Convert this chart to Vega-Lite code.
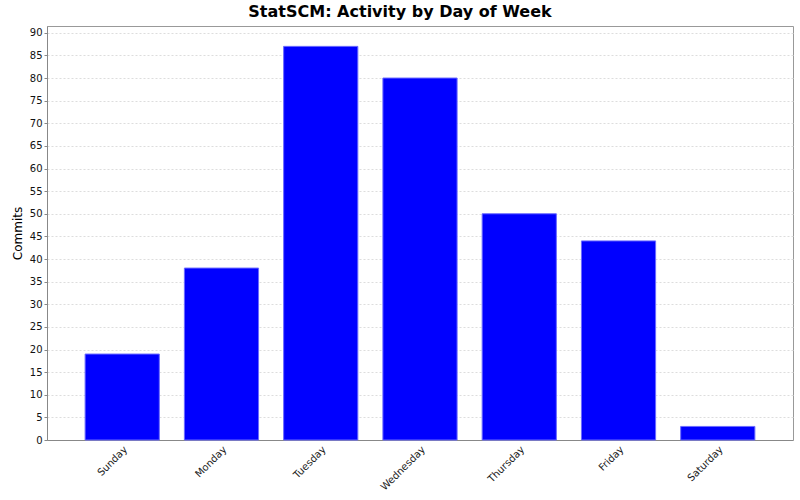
{
  "$schema": "https://vega.github.io/schema/vega-lite/v6.json",
  "width": 746,
  "height": 414,
  "autosize": {"type": "none"},
  "padding": {"left": 47, "top": 26, "right": 7, "bottom": 60},
  "background": "white",
  "title": {
    "text": "StatSCM: Activity by Day of Week",
    "font": "DejaVu Sans",
    "fontSize": 16,
    "fontWeight": "bold",
    "color": "#000000",
    "anchor": "middle",
    "dx": -20,
    "offset": 6
  },
  "config": {
    "view": {"stroke": "#999999", "strokeWidth": 1},
    "font": "DejaVu Sans"
  },
  "data": {
    "values": [
      {"day": "Sunday", "commits": 19},
      {"day": "Monday", "commits": 38},
      {"day": "Tuesday", "commits": 87},
      {"day": "Wednesday", "commits": 80},
      {"day": "Thursday", "commits": 50},
      {"day": "Friday", "commits": 44},
      {"day": "Saturday", "commits": 3}
    ]
  },
  "mark": {"type": "bar", "color": "#0000FF", "stroke": "#6b6bff", "strokeWidth": 1},
  "encoding": {
    "x": {
      "field": "day",
      "type": "nominal",
      "sort": null,
      "scale": {"paddingInner": 0.2525, "paddingOuter": 0.384},
      "axis": {
        "title": null,
        "labelAngle": -45,
        "labelAlign": "right",
        "labelBaseline": "top",
        "labelFontSize": 10,
        "labelColor": "#222222",
        "labelPadding": 4,
        "ticks": false,
        "domainColor": "#888888",
        "grid": false
      }
    },
    "y": {
      "field": "commits",
      "type": "quantitative",
      "scale": {"domain": [0, 91.5], "nice": false},
      "axis": {
        "title": "Commits",
        "titleFont": "DejaVu Sans",
        "titleFontSize": 12,
        "titleFontWeight": "normal",
        "titleColor": "#000000",
        "titlePadding": 5,
        "values": [0,5,10,15,20,25,30,35,40,45,50,55,60,65,70,75,80,85,90],
        "labelFontSize": 10,
        "labelColor": "#111111",
        "tickColor": "#888888",
        "tickSize": 3,
        "labelPadding": 2,
        "domainColor": "#888888",
        "gridColor": "#dddddd",
        "gridDash": [2, 2],
        "gridWidth": 1
      }
    }
  }
}
